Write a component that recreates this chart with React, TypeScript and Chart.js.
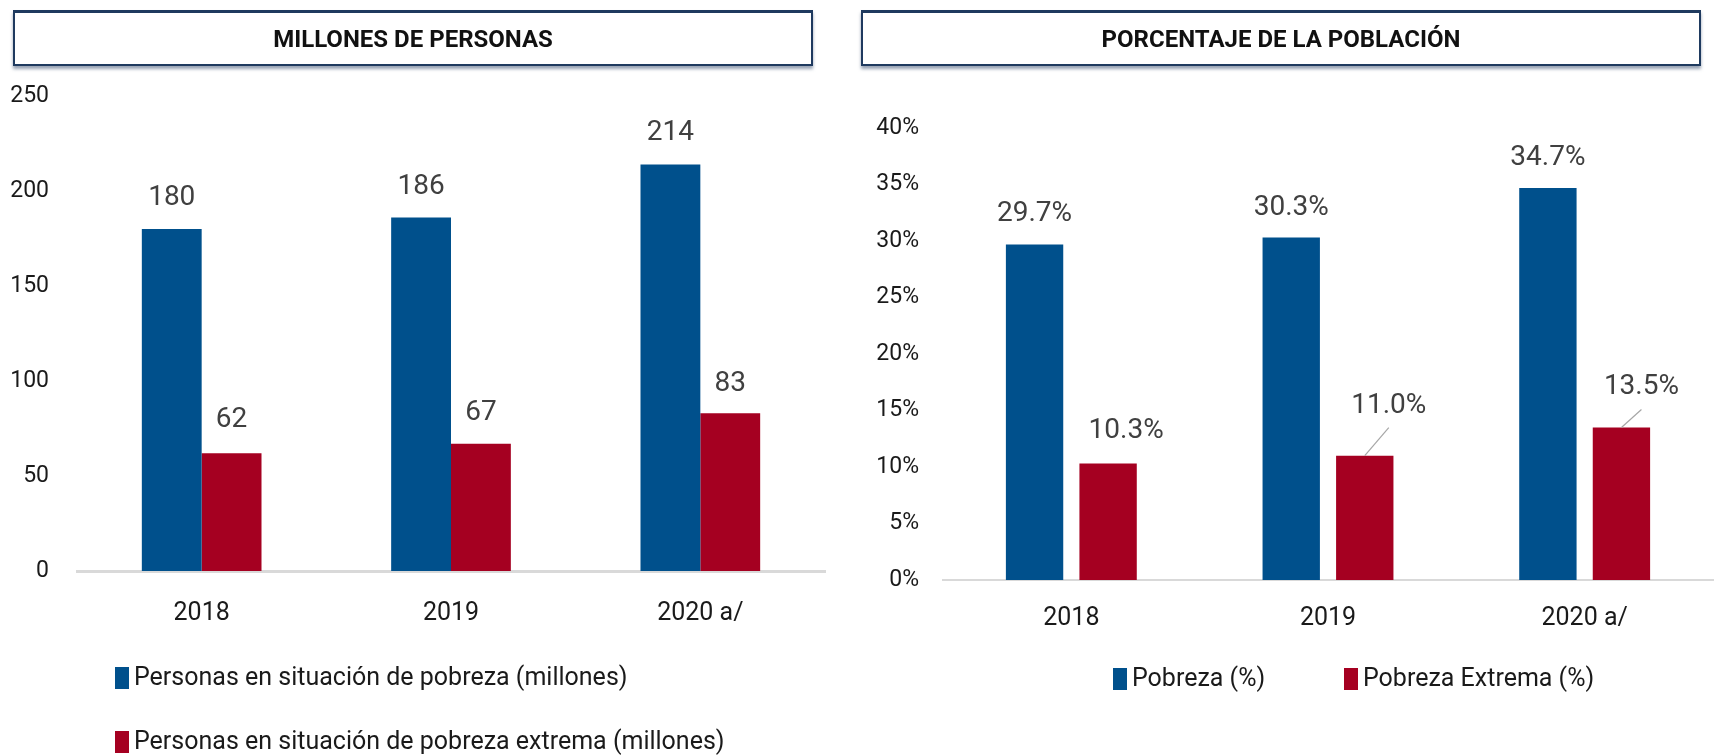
import React, { useEffect, useRef } from "react";
import { Chart, registerables } from "chart.js";

Chart.register(...registerables);

// ---- Data ----
const categories = ["2018", "2019", "2020 a/"];
const personasPobreza = [180, 186, 214];
const personasExtrema = [62, 67, 83];
const pctPobreza = [29.7, 30.3, 34.7];
const pctExtrema = [10.3, 11.0, 13.5];

const leftTitle = "MILLONES DE PERSONAS";
const rightTitle = "PORCENTAJE DE LA POBLACIÓN";
const leftLabels = [
  "Personas en situación de pobreza (millones)",
  "Personas en situación de pobreza extrema (millones)",
];
const rightLabels = ["Pobreza (%)", "Pobreza Extrema (%)"];

const BLUE = "#00508C";
const RED = "#A50021";
const FONT = "Roboto, 'Open Sans', sans-serif";

// ---- Plugins ----
const valueLabels = {
  id: "valueLabels",
  afterDatasetsDraw(chart: any, _args: any, opts: any) {
    const ctx = chart.ctx;
    ctx.save();
    ctx.font = opts.font;
    ctx.textAlign = "center";
    ctx.textBaseline = "middle";
    chart.data.datasets.forEach((ds: any, di: number) => {
      const meta = chart.getDatasetMeta(di);
      meta.data.forEach((el: any, i: number) => {
        const p = opts.placements[di][i];
        const lx = el.x + p.dx;
        const ly = el.y - p.dy;
        if (p.leader) {
          ctx.strokeStyle = opts.leaderColor;
          ctx.lineWidth = 1.2;
          ctx.beginPath();
          ctx.moveTo(el.x, el.y);
          ctx.lineTo(lx, ly + p.leader);
          ctx.stroke();
        }
        ctx.fillStyle = opts.color;
        ctx.fillText(opts.format(ds.data[i]), lx, ly);
      });
    });
    ctx.restore();
  },
};

const boxLegend = {
  id: "boxLegend",
  afterDraw(chart: any, _args: any, opts: any) {
    const ctx = chart.ctx;
    ctx.save();
    ctx.font = opts.font;
    ctx.textAlign = "left";
    ctx.textBaseline = "middle";
    opts.items.forEach((pos: any, di: number) => {
      const ds = chart.data.datasets[di];
      ctx.fillStyle = ds.backgroundColor;
      ctx.fillRect(pos.x, pos.y - opts.boxHeight / 2, opts.boxWidth, opts.boxHeight);
      ctx.fillStyle = opts.color;
      ctx.fillText(ds.label, pos.x + opts.boxWidth + opts.gap, pos.y + 1);
    });
    ctx.restore();
  },
};

function makeConfig(p: {
  series: number[][];
  labels: string[];
  max: number;
  step: number;
  tickFmt: (v: number) => string;
  valFmt: (v: number) => string;
  catPct: number;
  barPct: number;
  yWidth: number;
  yPad: number;
  xHeight: number;
  xPad: number;
  padding: any;
  placements: any;
  legendItems: any;
  axisWidth: number;
}) {
  return {
    type: "bar",
    data: {
      labels: categories,
      datasets: p.series.map((s, i) => ({
        label: p.labels[i],
        data: s,
        backgroundColor: i === 0 ? BLUE : RED,
        borderWidth: 0,
        categoryPercentage: p.catPct,
        barPercentage: p.barPct,
      })),
    },
    options: {
      animation: false,
      responsive: false,
      maintainAspectRatio: false,
      layout: { padding: p.padding },
      plugins: {
        legend: { display: false },
        tooltip: { enabled: false },
        title: { display: false },
        valueLabels: {
          font: `28px ${FONT}`,
          color: "#404040",
          leaderColor: "#a6a6a6",
          format: p.valFmt,
          placements: p.placements,
        },
        boxLegend: {
          font: `25px ${FONT}`,
          color: "#1a1a1a",
          boxWidth: 14,
          boxHeight: 22,
          gap: 5,
          items: p.legendItems,
        },
      },
      scales: {
        x: {
          grid: { display: false, drawTicks: false },
          border: { display: true, color: "#d9d9d9", width: p.axisWidth },
          ticks: {
            color: "#1a1a1a",
            font: { family: FONT, size: 25 },
            padding: p.xPad,
            maxRotation: 0,
          },
          afterFit(axis: any) {
            axis.height = p.xHeight;
          },
        },
        y: {
          min: 0,
          max: p.max,
          grid: { display: false, drawTicks: false },
          border: { display: false },
          ticks: {
            stepSize: p.step,
            color: "#1a1a1a",
            font: { family: FONT, size: 23 },
            padding: p.yPad,
            callback: (v: any) => p.tickFmt(Number(v)),
          },
          afterFit(axis: any) {
            axis.width = p.yWidth;
          },
        },
      },
    },
    plugins: [valueLabels, boxLegend],
  };
}

function ChartCanvas({ config, style, width, height }: any) {
  const ref = useRef<HTMLCanvasElement | null>(null);
  useEffect(() => {
    if (!ref.current) return;
    const chart = new Chart(ref.current, config);
    return () => chart.destroy();
  }, []);
  return <canvas ref={ref} width={width} height={height} style={{ position: "absolute", width, height, ...style }} />;
}

const titleBox = (left: number, width: number): React.CSSProperties => ({
  position: "absolute",
  left,
  top: 10,
  width,
  height: 56,
  boxSizing: "border-box",
  border: "2px solid #1F3A5F",
  borderTopWidth: 3,
  boxShadow: "0 3px 3px rgba(70,90,120,0.55)",
  background: "#fff",
  display: "flex",
  alignItems: "center",
  justifyContent: "center",
  fontFamily: FONT,
  fontWeight: 700,
  fontSize: 24,
  color: "#111",
});

export default function App() {
  const leftCfg = makeConfig({
    series: [personasPobreza, personasExtrema],
    labels: leftLabels,
    max: 250,
    step: 50,
    tickFmt: (v) => String(v),
    valFmt: (v) => String(v),
    catPct: 0.48,
    barPct: 1.0,
    yWidth: 77,
    yPad: 28,
    xHeight: 70,
    xPad: 28,
    padding: { left: 0, right: 32, top: 96, bottom: 114 },
    axisWidth: 3,
    placements: [
      [{ dx: 0, dy: 31 }, { dx: 0, dy: 31 }, { dx: 0, dy: 31 }],
      [{ dx: 0, dy: 33 }, { dx: 0, dy: 31 }, { dx: 0, dy: 29 }],
    ],
    legendItems: [
      { x: 115, y: 678 },
      { x: 115, y: 742 },
    ],
  });

  const rightCfg = makeConfig({
    series: [pctPobreza, pctExtrema],
    labels: rightLabels,
    max: 40,
    step: 5,
    tickFmt: (v) => `${v}%`,
    valFmt: (v) => `${v.toFixed(1)}%`,
    catPct: 0.573,
    barPct: 0.78,
    yWidth: 86,
    yPad: 24,
    xHeight: 70,
    xPad: 24,
    padding: { left: 0, right: 2, top: 128, bottom: 105 },
    axisWidth: 2,
    placements: [
      [{ dx: 0, dy: 30 }, { dx: 0, dy: 30 }, { dx: 0, dy: 30 }],
      [{ dx: 18, dy: 33 }, { dx: 24, dy: 50, leader: 22 }, { dx: 20, dy: 40, leader: 22 }],
    ],
    legendItems: [
      { x: 256, y: 679 },
      { x: 487, y: 679 },
    ],
  });

  return (
    <div style={{ position: "absolute", left: 0, top: 0, width: 1715, height: 755, background: "#fff", overflow: "hidden" }}>
      <ChartCanvas config={leftCfg} width={857} height={755} style={{ left: 0, top: 0 }} />
      <ChartCanvas config={rightCfg} width={858} height={755} style={{ left: 857, top: 0 }} />
      <div style={titleBox(13, 800)}>{leftTitle}</div>
      <div style={titleBox(861, 840)}>{rightTitle}</div>
    </div>
  );
}
